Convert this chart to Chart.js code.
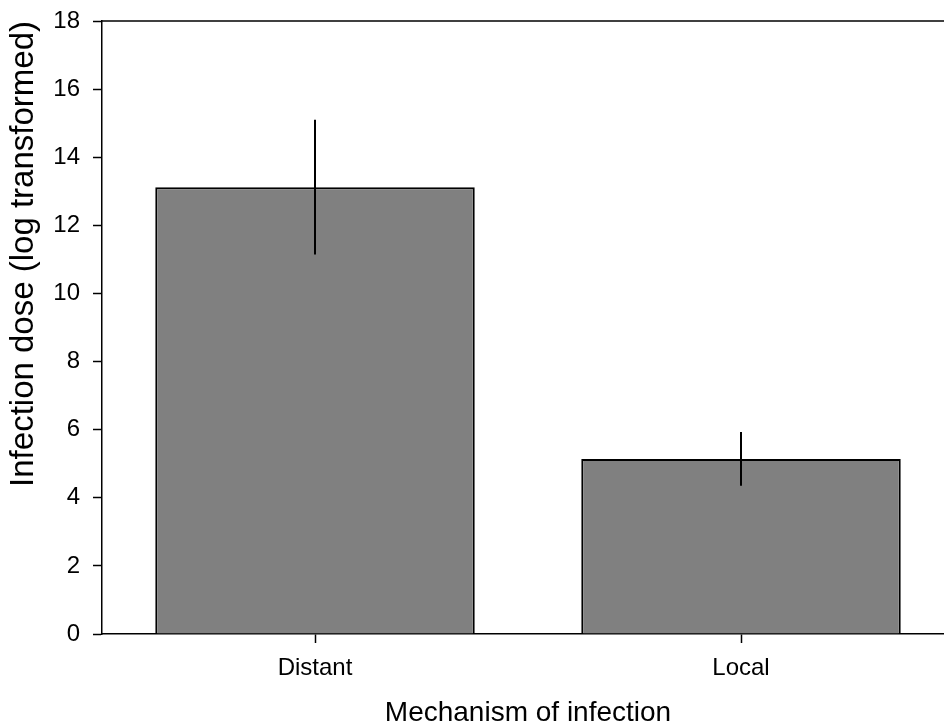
<!DOCTYPE html>
<html>
<head>
<meta charset="utf-8">
<title>Infection dose by mechanism</title>
<script src="https://cdn.jsdelivr.net/npm/chart.js@4/dist/chart.umd.min.js"></script>
<style>
    html, body { margin: 0; padding: 0; background: #fff; overflow: hidden; }
    #wrap { width: 960px; height: 727px; }
</style>
</head>
<body>
<div id="wrap"><canvas id="doseChart" width="960" height="727"></canvas></div>
<script>
/* -------------------------------
   Data
--------------------------------*/
const categories = ["Distant", "Local"];
const meanDose   = [13.12, 5.14];
const errDose    = [1.98, 0.79];
const yTicks     = [0, 2, 4, 6, 8, 10, 12, 14, 16, 18];

const FONT = "'Liberation Sans', Arial, sans-serif";

/* Error bars + top frame line, drawn through the chart scales */
const errorBarPlugin = {
    id: "errorBars",
    afterDatasetsDraw(chart) {
        const ctx = chart.ctx;
        const x = chart.scales.x;
        const y = chart.scales.y;

        ctx.save();
        ctx.strokeStyle = "#000";
        ctx.lineWidth = 2;
        meanDose.forEach((m, i) => {
            const px = x.getPixelForValue(i);
            ctx.beginPath();
            ctx.moveTo(px, y.getPixelForValue(m + errDose[i]));
            ctx.lineTo(px, y.getPixelForValue(m - errDose[i]));
            ctx.stroke();
        });

        // top frame
        const area = chart.chartArea;
        ctx.lineWidth = 1.5;
        ctx.beginPath();
        ctx.moveTo(area.left, area.top);
        ctx.lineTo(area.right, area.top);
        ctx.stroke();
        ctx.restore();
    }
};

const ctx = document.getElementById("doseChart").getContext("2d");

new Chart(ctx, {
    type: "bar",
    data: {
        labels: categories,
        datasets: [{
            label: "Infection dose",
            data: meanDose,
            backgroundColor: "#808080",
            borderColor: "#000",
            borderWidth: 2,
            barPercentage: 0.75,
            categoryPercentage: 1.0
        }]
    },
    options: {
        responsive: false,
        animation: false,
        layout: { padding: { top: 21, right: 6, left: 0, bottom: 0 } },
        plugins: {
            legend: { display: false },
            tooltip: { enabled: false }
        },
        scales: {
            x: {
                grid: {
                    offset: false,
                    drawOnChartArea: false,
                    tickLength: 9,
                    tickColor: "#000",
                    tickWidth: 1.5
                },
                border: { color: "#000", width: 1.5 },
                ticks: {
                    color: "#000",
                    padding: 11,
                    font: { family: FONT, size: 24 }
                },
                title: {
                    display: true,
                    text: "Mechanism of infection",
                    color: "#000",
                    padding: { top: 0, bottom: 0 },
                    font: { family: FONT, size: 28, lineHeight: 1 }
                },
                afterFit(scale) { scale.height = 93; }
            },
            y: {
                min: 0,
                max: 18,
                afterBuildTicks(scale) {
                    scale.ticks = yTicks.map(v => ({ value: v }));
                },
                grid: {
                    drawOnChartArea: false,
                    tickLength: 9,
                    tickColor: "#000",
                    tickWidth: 1.5
                },
                border: { color: "#000", width: 1.5 },
                ticks: {
                    color: "#000",
                    padding: 13,
                    font: { family: FONT, size: 24 }
                },
                title: {
                    display: true,
                    text: "Infection dose (log transformed)",
                    color: "#000",
                    align: "end",
                    padding: { top: 7, bottom: 0 },
                    font: { family: FONT, size: 33, lineHeight: 1 }
                },
                afterFit(scale) {
                    scale.width = 102;
                    // let layout padding decide the top edge, not the label overhang
                    scale.paddingTop = 0;
                    scale.paddingBottom = 0;
                }
            }
        }
    },
    plugins: [errorBarPlugin]
});
</script>
</body>
</html>
